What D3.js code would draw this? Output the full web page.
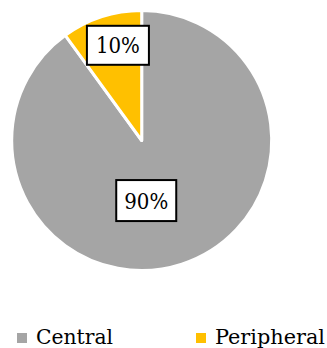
<!DOCTYPE html>
<html>
<head>
<meta charset="utf-8">
<script src="https://cdn.jsdelivr.net/npm/d3@7"></script>
<style>
  html, body { margin: 0; padding: 0; background: #fff; }
  svg { display: block; }
</style>
</head>
<body>
<svg id="chart" width="327" height="348"></svg>
<script>
// Share of cases by location
const categories = ["Central", "Peripheral"];
const values = [90, 10];
const labels = ["90%", "10%"];
const colors = ["#a5a5a5", "#ffc000"];

const serif = "'DejaVu Serif', 'Liberation Serif', serif";

const svg = d3.select("#chart");
const cx = 141.7, cy = 140.5, radius = 130;

const pie = d3.pie().sort(null).value(d => d)(values);
const arc = d3.arc().innerRadius(0).outerRadius(radius);

const g = svg.append("g").attr("transform", `translate(${cx},${cy})`);

g.selectAll("path.slice")
  .data(pie)
  .join("path")
  .attr("class", "slice")
  .attr("d", arc)
  .attr("fill", (d, i) => colors[i])
  .attr("stroke", "#fff")
  .attr("stroke-width", 3)
  .attr("stroke-linejoin", "round");

// Data labels in framed boxes
const labelRadius = [60, 98];
const nudge = [[-14, 3], [6.5, -2]];
const boxW = [60, 62], boxH = [41, 39];

pie.forEach((d, i) => {
  const la = d3.arc().innerRadius(labelRadius[i]).outerRadius(labelRadius[i]);
  const [x0, y0] = la.centroid(d);
  const x = x0 + nudge[i][0], y = y0 + nudge[i][1];
  const lg = g.append("g").attr("transform", `translate(${x},${y})`);
  lg.append("rect")
    .attr("x", -boxW[i] / 2).attr("y", -boxH[i] / 2)
    .attr("width", boxW[i]).attr("height", boxH[i])
    .attr("fill", "#fff").attr("stroke", "#000").attr("stroke-width", 2);
  lg.append("text")
    .attr("text-anchor", "middle")
    .attr("y", 8)
    .attr("font-family", serif)
    .attr("font-size", 22)
    .attr("textLength", 44)
    .attr("lengthAdjust", "spacingAndGlyphs")
    .text(labels[i]);
});

// Legend
const legendX = [17, 196];
const textLen = [77, 110];
const legend = svg.append("g");
categories.forEach((c, i) => {
  legend.append("rect")
    .attr("x", legendX[i]).attr("y", 333)
    .attr("width", 10).attr("height", 10)
    .attr("fill", colors[i]);
  legend.append("text")
    .attr("x", legendX[i] + 19).attr("y", 344)
    .attr("font-family", serif)
    .attr("font-size", 20)
    .attr("textLength", textLen[i])
    .attr("lengthAdjust", "spacingAndGlyphs")
    .text(c);
});
</script>
</body>
</html>
